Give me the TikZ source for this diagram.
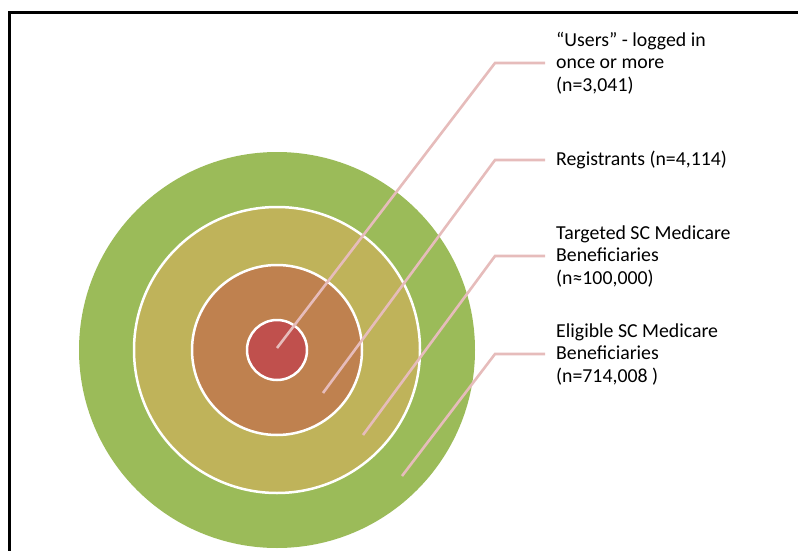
\documentclass[tikz,border=0pt]{standalone}
\usepackage{fontspec}
\setmainfont{Carlito}

\definecolor{ringgreen}{HTML}{9BBB59}
\definecolor{ringolive}{HTML}{BFB35A}
\definecolor{ringorange}{HTML}{BF814F}
\definecolor{ringred}{HTML}{C0504D}
\definecolor{leadpink}{HTML}{E6BCBB}

\tikzset{
  ring/.style={draw=white, line width=2.5pt},
  leader/.style={draw=leadpink, line width=2.6pt},
  lbl/.style={anchor=west, align=left, inner xsep=11pt, inner ysep=0pt,
    font=\fontsize{19.8}{22.5}\selectfont}
}

\begin{document}
\begin{tikzpicture}[x=1pt, y=-1pt]
\useasboundingbox (0,0) rectangle (798,551);
\draw[line width=3pt] (9.5,551) -- (9.5,12.5) -- (798,12.5);

\coordinate (c) at (277,350);
\fill[ringgreen] (c) circle (198);
\filldraw[ring, fill=ringolive] (c) circle (143);
\filldraw[ring, fill=ringorange] (c) circle (85);
\filldraw[ring, fill=ringred] (c) circle (30);

\node[lbl] (users) at (545,63) {“Users” - logged in\\once or more\\(n=3,041)};
\node[lbl] (regs) at (545,160) {Registrants (n=4,114)};
\node[lbl] (target) at (545,256) {Targeted SC Medicare\\Beneficiaries\\(n≈100,000)};
\node[lbl] (elig) at (545,354) {Eligible SC Medicare\\Beneficiaries\\(n=714,008 )};

\coordinate (u0) at (277,348);  \coordinate (u1) at (495,63);
\coordinate (r0) at (323,393);  \coordinate (r1) at (495,160);
\coordinate (t0) at (363,435);  \coordinate (t1) at (495,256);
\coordinate (e0) at (402,476);  \coordinate (e1) at (495,354);

\draw[leader] (u0) -- (u1) -- (users.west);
\draw[leader] (r0) -- (r1) -- (regs.west);
\draw[leader] (t0) -- (t1) -- (target.west);
\draw[leader] (e0) -- (e1) -- (elig.west);
\end{tikzpicture}
\end{document}
